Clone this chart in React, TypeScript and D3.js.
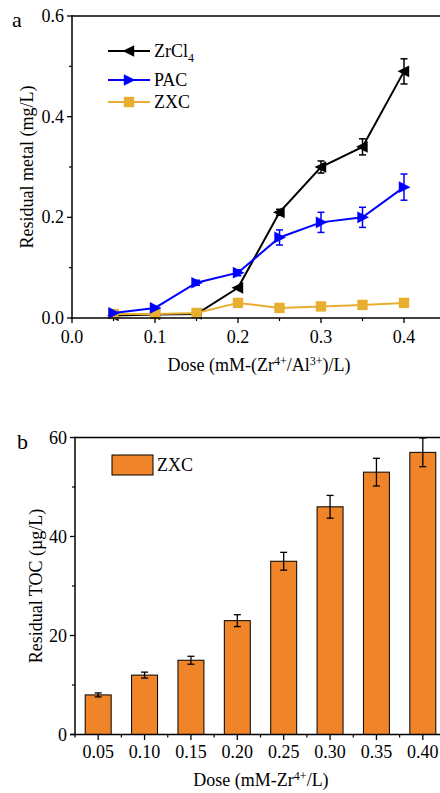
import React from "react";
import * as d3 from "d3";

const doses = [0.05, 0.1, 0.15, 0.2, 0.25, 0.3, 0.35, 0.4];
const zrcl4 = [0.005, 0.007, 0.008, 0.06, 0.21, 0.3, 0.34, 0.49];
const zrcl4Err = [0.002, 0.002, 0.002, 0.004, 0.006, 0.012, 0.016, 0.025];
const pac = [0.01, 0.02, 0.07, 0.09, 0.16, 0.19, 0.2, 0.26];
const pacErr = [0.003, 0.004, 0.005, 0.006, 0.015, 0.02, 0.02, 0.026];
const zxc = [0.008, 0.008, 0.01, 0.03, 0.02, 0.023, 0.026, 0.03];
const zxcErr = [0.005, 0.005, 0.005, 0.003, 0.002, 0.002, 0.002, 0.003];

const barCats = ["0.05", "0.10", "0.15", "0.20", "0.25", "0.30", "0.35", "0.40"];
const tocVals = [8, 12, 15, 23, 35, 46, 53, 57];
const tocErr = [0.4, 0.6, 0.8, 1.2, 1.8, 2.3, 2.8, 2.9];

const topXTicks = [0, 0.1, 0.2, 0.3, 0.4];
const topYTicks = [0, 0.2, 0.4, 0.6];
const botYTicks = [0, 20, 40, 60];

const FONT = "'Liberation Serif', 'Times New Roman', serif";
const BLACK = "#000";
const BLUE = "#0000FF";
const GOLD = "#E8AE30";
const ORANGE = "#EF8429";
const FS = 18;
const SUP = 12;

function TriLeft({ x, y, s, fill }: any) {
  return <path d={`M${x - s},${y} L${x + s * 0.8},${y - s * 0.9} L${x + s * 0.8},${y + s * 0.9} Z`} fill={fill} />;
}
function TriRight({ x, y, s, fill }: any) {
  return <path d={`M${x + s},${y} L${x - s * 0.8},${y - s * 0.9} L${x - s * 0.8},${y + s * 0.9} Z`} fill={fill} />;
}
function Sq({ x, y, s, fill }: any) {
  return <rect x={x - s} y={y - s} width={2 * s} height={2 * s} fill={fill} />;
}

export default function App() {
  // Top chart
  const x1 = d3.scaleLinear().domain([0, 0.45]).range([72, 445.5]);
  const y1 = d3.scaleLinear().domain([0, 0.6]).range([318, 16]);
  const line = d3
    .line<number>()
    .x((_, i) => x1(doses[i]))
    .y((d) => y1(d));

  const series = [
    { name: "ZrCl4", vals: zrcl4, err: zrcl4Err, color: BLACK, marker: "left" },
    { name: "PAC", vals: pac, err: pacErr, color: BLUE, marker: "right" },
    { name: "ZXC", vals: zxc, err: zxcErr, color: GOLD, marker: "sq" },
  ];
  const drawOrder = [series[0], series[2], series[1]];

  const topMinorX = d3.range(0.05, 0.46, 0.1);
  const topMinorY = [0.1, 0.3, 0.5];

  // Bottom chart
  const x2 = d3.scaleBand<string>().domain(barCats).range([75, 446]).paddingInner(0.44).paddingOuter(0.22);
  const y2 = d3.scaleLinear().domain([0, 60]).range([734.5, 437.5]);
  const step = x2.step();
  const boundaries = barCats.map((c) => (x2(c) as number) + x2.bandwidth() / 2 - step / 2);

  const marker = (m: string, x: number, y: number, color: string, s = 6.5) =>
    m === "left" ? (
      <TriLeft x={x} y={y} s={s} fill={color} />
    ) : m === "right" ? (
      <TriRight x={x} y={y} s={s} fill={color} />
    ) : (
      <Sq x={x} y={y} s={s * 0.8} fill={color} />
    );

  return (
    <svg
      width={440}
      height={793}
      style={{ position: "absolute", left: 0, top: 0, background: "#fff" }}
      fontFamily={FONT}
    >
      <rect width={440} height={793} fill="#fff" />
      {/* ===== Top chart ===== */}
      <text x={12} y={27} fontSize={22}>a</text>
      {drawOrder.map((s) => (
        <g key={s.name}>
          <path d={line(s.vals) as string} fill="none" stroke={s.color} strokeWidth={2} />
          {s.vals.map((v, i) => {
            const cx = x1(doses[i]);
            const top = y1(v + s.err[i]);
            const bot = y1(v - s.err[i]);
            return (
              <g key={i}>
                {s.err[i] > 0.004 && (
                  <g stroke={s.color} strokeWidth={1.5}>
                    <line x1={cx} x2={cx} y1={top} y2={bot} />
                    <line x1={cx - 3.5} x2={cx + 3.5} y1={top} y2={top} />
                    <line x1={cx - 3.5} x2={cx + 3.5} y1={bot} y2={bot} />
                  </g>
                )}
                {marker(s.marker, cx, y1(v), s.color)}
              </g>
            );
          })}
        </g>
      ))}
      {/* frame */}
      <line x1={72} x2={460} y1={16} y2={16} stroke={BLACK} strokeWidth={1.5} />
      <line x1={72} x2={72} y1={15.3} y2={318.7} stroke={BLACK} strokeWidth={1.5} />
      <line x1={71.3} x2={460} y1={318} y2={318} stroke={BLACK} strokeWidth={1.5} />
      {topXTicks.map((t) => (
        <g key={t}>
          <line x1={x1(t)} x2={x1(t)} y1={318} y2={323} stroke={BLACK} strokeWidth={1.3} />
          <text x={x1(t)} y={343} fontSize={FS} textAnchor="middle">{t.toFixed(1)}</text>
        </g>
      ))}
      {topMinorX.map((t) => (
        <line key={t} x1={x1(t)} x2={x1(t)} y1={318} y2={321} stroke={BLACK} strokeWidth={1.2} />
      ))}
      {topYTicks.map((t) => (
        <g key={t}>
          <line x1={67} x2={72} y1={y1(t)} y2={y1(t)} stroke={BLACK} strokeWidth={1.3} />
          <text x={64} y={y1(t) + 6} fontSize={FS} textAnchor="end">{t.toFixed(1)}</text>
        </g>
      ))}
      {topMinorY.map((t) => (
        <line key={t} x1={69} x2={72} y1={y1(t)} y2={y1(t)} stroke={BLACK} strokeWidth={1.2} />
      ))}
      <text x={259} y={371} fontSize={FS} textAnchor="middle">
        Dose (mM-(Zr<tspan dy={-6} fontSize={SUP}>4+</tspan><tspan dy={6}>/Al</tspan>
        <tspan dy={-6} fontSize={SUP}>3+</tspan><tspan dy={6}>)/L)</tspan>
      </text>
      <text transform="translate(33,167) rotate(-90)" fontSize={FS} textAnchor="middle">
        Residual metal (mg/L)
      </text>
      {/* legend */}
      {series.map((s, i) => {
        const ly = [51, 80, 102][i];
        return (
          <g key={s.name}>
            <line x1={108} x2={150} y1={ly} y2={ly} stroke={s.color} strokeWidth={2} />
            {marker(s.marker, 129, ly, s.color)}
            <text x={154} y={ly + 6} fontSize={FS}>
              {s.name === "ZrCl4" ? (
                <>
                  ZrCl<tspan dy={5} fontSize={SUP}>4</tspan>
                </>
              ) : (
                s.name
              )}
            </text>
          </g>
        );
      })}

      {/* ===== Bottom chart ===== */}
      <text x={17} y={449} fontSize={22}>b</text>
      {tocVals.map((v, i) => {
        const c = barCats[i];
        const bx = x2(c) as number;
        const cx = bx + x2.bandwidth() / 2;
        const top = y2(v + tocErr[i]);
        const bot = y2(v - tocErr[i]);
        return (
          <g key={c}>
            <rect x={bx} y={y2(v)} width={x2.bandwidth()} height={y2(0) - y2(v)} fill={ORANGE} stroke={BLACK} strokeWidth={1} />
            <g stroke={BLACK} strokeWidth={1.3}>
              <line x1={cx} x2={cx} y1={top} y2={bot} />
              <line x1={cx - 3.5} x2={cx + 3.5} y1={top} y2={top} />
              <line x1={cx - 3.5} x2={cx + 3.5} y1={bot} y2={bot} />
            </g>
          </g>
        );
      })}
      <line x1={75} x2={460} y1={437.5} y2={437.5} stroke={BLACK} strokeWidth={1.5} />
      <line x1={75} x2={75} y1={436.8} y2={735.2} stroke={BLACK} strokeWidth={1.5} />
      <line x1={70} x2={460} y1={734.5} y2={734.5} stroke={BLACK} strokeWidth={1.5} />
      {barCats.map((c) => {
        const cx = (x2(c) as number) + x2.bandwidth() / 2;
        return (
          <g key={c}>
            <line x1={cx} x2={cx} y1={734.5} y2={740} stroke={BLACK} strokeWidth={1.3} />
            <text x={cx} y={758} fontSize={FS} textAnchor="middle">{c}</text>
          </g>
        );
      })}
      {boundaries.map((b, i) => (
        <line key={i} x1={b} x2={b} y1={734.5} y2={737.5} stroke={BLACK} strokeWidth={1.2} />
      ))}
      {botYTicks.map((t) => (
        <g key={t}>
          <line x1={70} x2={75} y1={y2(t)} y2={y2(t)} stroke={BLACK} strokeWidth={1.3} />
          <text x={67} y={y2(t) + 6} fontSize={FS} textAnchor="end">{t}</text>
        </g>
      ))}
      {[10, 30, 50].map((t) => (
        <line key={t} x1={72} x2={75} y1={y2(t)} y2={y2(t)} stroke={BLACK} strokeWidth={1.2} />
      ))}
      <text x={261} y={786} fontSize={FS} textAnchor="middle">
        Dose (mM-Zr<tspan dy={-6} fontSize={SUP}>4+</tspan><tspan dy={6}>/L)</tspan>
      </text>
      <text transform="translate(42,586) rotate(-90)" fontSize={FS} textAnchor="middle">
        Residual TOC (µg/L)
      </text>
      {/* legend */}
      <rect x={112} y={455} width={41} height={20} fill={ORANGE} stroke={BLACK} strokeWidth={1} />
      <text x={157} y={471} fontSize={FS}>ZXC</text>
    </svg>
  );
}
